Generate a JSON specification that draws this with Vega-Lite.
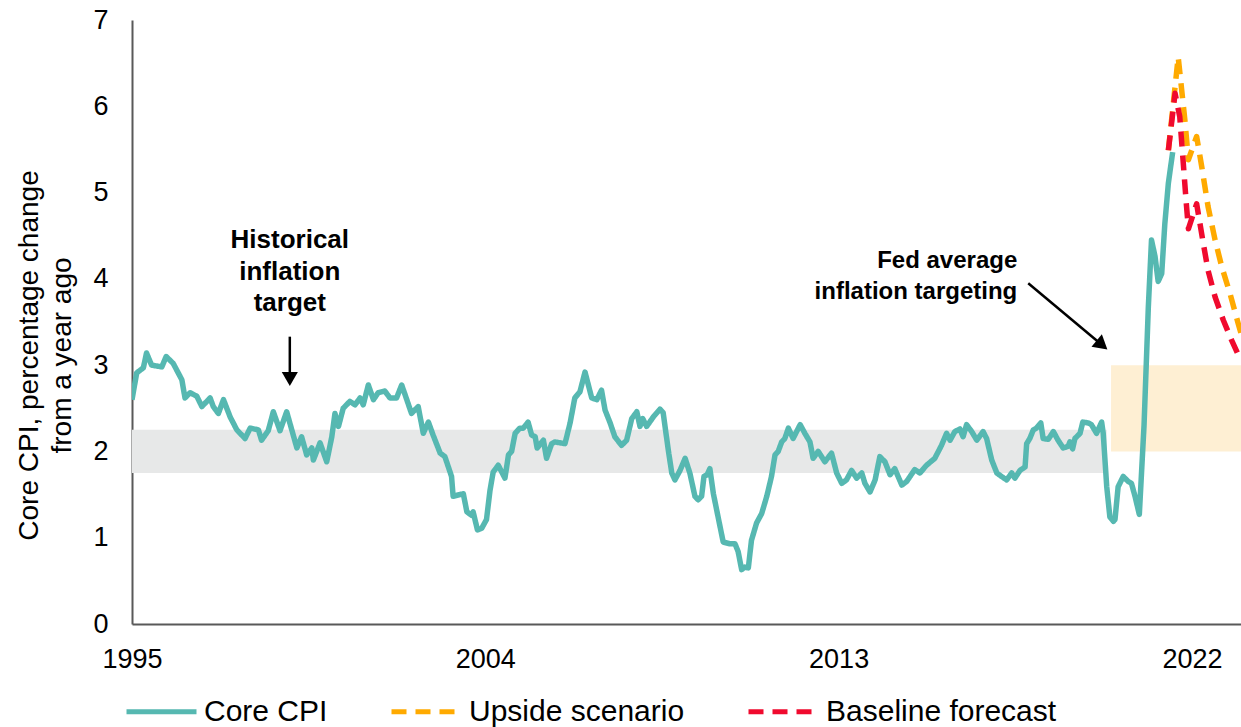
{
  "$schema": "https://vega.github.io/schema/vega-lite/v6.json",
  "width": 1109,
  "height": 604,
  "autosize": {"type": "none"},
  "padding": {"left": 132, "top": 20, "right": 0, "bottom": 103},
  "background": "white",
  "config": {"view": {"stroke": null}, "font": "Liberation Sans"},
  "datasets": {
    "gray": [{"x": 1995, "x2": 2019.83, "lo": 1.75, "hi": 2.25}],
    "peach": [{"x": 2019.94, "x2": 2023.25, "lo": 2.0, "hi": 3.0}],
    "arrowV": [{"x": 1999.02, "y": 3.33, "x2": 1999.02, "y2": 2.86}],
    "headV": [{"x": 1999.02, "y": 2.84}],
    "arrowD": [{"x": 2017.83, "y": 3.95, "x2": 2019.71, "y2": 3.234}],
    "headD": [{"x": 2019.71, "y": 3.234}],
    "txtH": [{"x": 1999.02, "y": 4.354, "label": "Historical\ninflation\ntarget"}],
    "txtF": [{"x": 2017.55, "y": 4.13, "label": "Fed average\ninflation targeting"}],
    "cpi": [
      {"s":"Core CPI","t":1995.00,"v":2.60},{"s":"Core CPI","t":1995.12,"v":2.91},{"s":"Core CPI","t":1995.29,"v":2.97},{"s":"Core CPI","t":1995.37,"v":3.14},{"s":"Core CPI","t":1995.50,"v":3.00},{"s":"Core CPI","t":1995.76,"v":2.98},{"s":"Core CPI","t":1995.87,"v":3.10},{"s":"Core CPI","t":1996.05,"v":3.02},{"s":"Core CPI","t":1996.27,"v":2.83},{"s":"Core CPI","t":1996.35,"v":2.62},{"s":"Core CPI","t":1996.48,"v":2.68},{"s":"Core CPI","t":1996.65,"v":2.64},{"s":"Core CPI","t":1996.78,"v":2.52},{"s":"Core CPI","t":1996.99,"v":2.62},{"s":"Core CPI","t":1997.07,"v":2.52},{"s":"Core CPI","t":1997.20,"v":2.44},{"s":"Core CPI","t":1997.33,"v":2.60},{"s":"Core CPI","t":1997.50,"v":2.40},{"s":"Core CPI","t":1997.67,"v":2.25},{"s":"Core CPI","t":1997.88,"v":2.15},{"s":"Core CPI","t":1998.01,"v":2.27},{"s":"Core CPI","t":1998.22,"v":2.25},{"s":"Core CPI","t":1998.30,"v":2.13},{"s":"Core CPI","t":1998.47,"v":2.24},{"s":"Core CPI","t":1998.60,"v":2.46},{"s":"Core CPI","t":1998.77,"v":2.24},{"s":"Core CPI","t":1998.94,"v":2.46},{"s":"Core CPI","t":1999.20,"v":2.04},{"s":"Core CPI","t":1999.32,"v":2.17},{"s":"Core CPI","t":1999.45,"v":1.96},{"s":"Core CPI","t":1999.58,"v":2.04},{"s":"Core CPI","t":1999.62,"v":1.90},{"s":"Core CPI","t":1999.79,"v":2.10},{"s":"Core CPI","t":1999.96,"v":1.88},{"s":"Core CPI","t":2000.09,"v":2.17},{"s":"Core CPI","t":2000.17,"v":2.44},{"s":"Core CPI","t":2000.26,"v":2.29},{"s":"Core CPI","t":2000.38,"v":2.50},{"s":"Core CPI","t":2000.55,"v":2.58},{"s":"Core CPI","t":2000.68,"v":2.54},{"s":"Core CPI","t":2000.81,"v":2.62},{"s":"Core CPI","t":2000.89,"v":2.54},{"s":"Core CPI","t":2001.02,"v":2.77},{"s":"Core CPI","t":2001.15,"v":2.60},{"s":"Core CPI","t":2001.27,"v":2.68},{"s":"Core CPI","t":2001.44,"v":2.70},{"s":"Core CPI","t":2001.57,"v":2.62},{"s":"Core CPI","t":2001.74,"v":2.62},{"s":"Core CPI","t":2001.87,"v":2.77},{"s":"Core CPI","t":2002.00,"v":2.60},{"s":"Core CPI","t":2002.12,"v":2.44},{"s":"Core CPI","t":2002.29,"v":2.52},{"s":"Core CPI","t":2002.42,"v":2.21},{"s":"Core CPI","t":2002.55,"v":2.34},{"s":"Core CPI","t":2002.67,"v":2.19},{"s":"Core CPI","t":2002.85,"v":1.98},{"s":"Core CPI","t":2002.97,"v":1.94},{"s":"Core CPI","t":2003.14,"v":1.71},{"s":"Core CPI","t":2003.18,"v":1.48},{"s":"Core CPI","t":2003.35,"v":1.50},{"s":"Core CPI","t":2003.44,"v":1.51},{"s":"Core CPI","t":2003.53,"v":1.30},{"s":"Core CPI","t":2003.65,"v":1.26},{"s":"Core CPI","t":2003.69,"v":1.30},{"s":"Core CPI","t":2003.80,"v":1.09},{"s":"Core CPI","t":2003.91,"v":1.11},{"s":"Core CPI","t":2004.03,"v":1.21},{"s":"Core CPI","t":2004.12,"v":1.55},{"s":"Core CPI","t":2004.20,"v":1.76},{"s":"Core CPI","t":2004.33,"v":1.84},{"s":"Core CPI","t":2004.50,"v":1.69},{"s":"Core CPI","t":2004.59,"v":1.96},{"s":"Core CPI","t":2004.67,"v":2.00},{"s":"Core CPI","t":2004.76,"v":2.21},{"s":"Core CPI","t":2004.88,"v":2.27},{"s":"Core CPI","t":2004.97,"v":2.27},{"s":"Core CPI","t":2005.09,"v":2.34},{"s":"Core CPI","t":2005.18,"v":2.19},{"s":"Core CPI","t":2005.27,"v":2.17},{"s":"Core CPI","t":2005.32,"v":2.04},{"s":"Core CPI","t":2005.48,"v":2.13},{"s":"Core CPI","t":2005.56,"v":1.92},{"s":"Core CPI","t":2005.69,"v":2.09},{"s":"Core CPI","t":2005.77,"v":2.11},{"s":"Core CPI","t":2006.03,"v":2.09},{"s":"Core CPI","t":2006.16,"v":2.33},{"s":"Core CPI","t":2006.28,"v":2.62},{"s":"Core CPI","t":2006.41,"v":2.69},{"s":"Core CPI","t":2006.54,"v":2.92},{"s":"Core CPI","t":2006.71,"v":2.62},{"s":"Core CPI","t":2006.84,"v":2.60},{"s":"Core CPI","t":2006.96,"v":2.71},{"s":"Core CPI","t":2007.05,"v":2.48},{"s":"Core CPI","t":2007.18,"v":2.33},{"s":"Core CPI","t":2007.30,"v":2.17},{"s":"Core CPI","t":2007.47,"v":2.07},{"s":"Core CPI","t":2007.60,"v":2.13},{"s":"Core CPI","t":2007.73,"v":2.38},{"s":"Core CPI","t":2007.86,"v":2.46},{"s":"Core CPI","t":2007.94,"v":2.29},{"s":"Core CPI","t":2008.01,"v":2.38},{"s":"Core CPI","t":2008.11,"v":2.29},{"s":"Core CPI","t":2008.28,"v":2.40},{"s":"Core CPI","t":2008.45,"v":2.49},{"s":"Core CPI","t":2008.53,"v":2.45},{"s":"Core CPI","t":2008.66,"v":2.02},{"s":"Core CPI","t":2008.75,"v":1.75},{"s":"Core CPI","t":2008.83,"v":1.67},{"s":"Core CPI","t":2008.96,"v":1.78},{"s":"Core CPI","t":2009.09,"v":1.92},{"s":"Core CPI","t":2009.21,"v":1.75},{"s":"Core CPI","t":2009.34,"v":1.48},{"s":"Core CPI","t":2009.42,"v":1.44},{"s":"Core CPI","t":2009.51,"v":1.48},{"s":"Core CPI","t":2009.57,"v":1.71},{"s":"Core CPI","t":2009.65,"v":1.73},{"s":"Core CPI","t":2009.72,"v":1.80},{"s":"Core CPI","t":2009.81,"v":1.51},{"s":"Core CPI","t":2009.93,"v":1.24},{"s":"Core CPI","t":2010.06,"v":0.95},{"s":"Core CPI","t":2010.23,"v":0.93},{"s":"Core CPI","t":2010.36,"v":0.93},{"s":"Core CPI","t":2010.44,"v":0.84},{"s":"Core CPI","t":2010.53,"v":0.63},{"s":"Core CPI","t":2010.61,"v":0.66},{"s":"Core CPI","t":2010.70,"v":0.65},{"s":"Core CPI","t":2010.78,"v":0.97},{"s":"Core CPI","t":2010.91,"v":1.17},{"s":"Core CPI","t":2011.04,"v":1.28},{"s":"Core CPI","t":2011.17,"v":1.48},{"s":"Core CPI","t":2011.29,"v":1.71},{"s":"Core CPI","t":2011.38,"v":1.96},{"s":"Core CPI","t":2011.46,"v":2.00},{"s":"Core CPI","t":2011.55,"v":2.11},{"s":"Core CPI","t":2011.63,"v":2.15},{"s":"Core CPI","t":2011.72,"v":2.27},{"s":"Core CPI","t":2011.84,"v":2.15},{"s":"Core CPI","t":2012.02,"v":2.31},{"s":"Core CPI","t":2012.14,"v":2.21},{"s":"Core CPI","t":2012.27,"v":2.11},{"s":"Core CPI","t":2012.35,"v":1.92},{"s":"Core CPI","t":2012.48,"v":2.00},{"s":"Core CPI","t":2012.65,"v":1.88},{"s":"Core CPI","t":2012.82,"v":1.98},{"s":"Core CPI","t":2012.95,"v":1.75},{"s":"Core CPI","t":2013.08,"v":1.63},{"s":"Core CPI","t":2013.20,"v":1.67},{"s":"Core CPI","t":2013.33,"v":1.78},{"s":"Core CPI","t":2013.46,"v":1.69},{"s":"Core CPI","t":2013.59,"v":1.75},{"s":"Core CPI","t":2013.67,"v":1.63},{"s":"Core CPI","t":2013.80,"v":1.53},{"s":"Core CPI","t":2013.93,"v":1.67},{"s":"Core CPI","t":2014.05,"v":1.94},{"s":"Core CPI","t":2014.18,"v":1.88},{"s":"Core CPI","t":2014.31,"v":1.73},{"s":"Core CPI","t":2014.43,"v":1.80},{"s":"Core CPI","t":2014.61,"v":1.61},{"s":"Core CPI","t":2014.73,"v":1.65},{"s":"Core CPI","t":2014.94,"v":1.79},{"s":"Core CPI","t":2015.07,"v":1.75},{"s":"Core CPI","t":2015.24,"v":1.84},{"s":"Core CPI","t":2015.45,"v":1.92},{"s":"Core CPI","t":2015.62,"v":2.07},{"s":"Core CPI","t":2015.75,"v":2.21},{"s":"Core CPI","t":2015.84,"v":2.13},{"s":"Core CPI","t":2015.96,"v":2.23},{"s":"Core CPI","t":2016.09,"v":2.26},{"s":"Core CPI","t":2016.17,"v":2.17},{"s":"Core CPI","t":2016.26,"v":2.31},{"s":"Core CPI","t":2016.39,"v":2.23},{"s":"Core CPI","t":2016.52,"v":2.13},{"s":"Core CPI","t":2016.68,"v":2.23},{"s":"Core CPI","t":2016.77,"v":2.15},{"s":"Core CPI","t":2016.90,"v":1.90},{"s":"Core CPI","t":2017.03,"v":1.75},{"s":"Core CPI","t":2017.15,"v":1.71},{"s":"Core CPI","t":2017.28,"v":1.67},{"s":"Core CPI","t":2017.41,"v":1.75},{"s":"Core CPI","t":2017.49,"v":1.69},{"s":"Core CPI","t":2017.62,"v":1.78},{"s":"Core CPI","t":2017.75,"v":1.82},{"s":"Core CPI","t":2017.79,"v":2.09},{"s":"Core CPI","t":2017.87,"v":2.15},{"s":"Core CPI","t":2017.96,"v":2.25},{"s":"Core CPI","t":2018.04,"v":2.27},{"s":"Core CPI","t":2018.15,"v":2.33},{"s":"Core CPI","t":2018.21,"v":2.15},{"s":"Core CPI","t":2018.34,"v":2.14},{"s":"Core CPI","t":2018.47,"v":2.23},{"s":"Core CPI","t":2018.59,"v":2.13},{"s":"Core CPI","t":2018.72,"v":2.04},{"s":"Core CPI","t":2018.85,"v":2.06},{"s":"Core CPI","t":2018.89,"v":2.11},{"s":"Core CPI","t":2018.96,"v":2.03},{"s":"Core CPI","t":2019.02,"v":2.15},{"s":"Core CPI","t":2019.15,"v":2.21},{"s":"Core CPI","t":2019.22,"v":2.34},{"s":"Core CPI","t":2019.36,"v":2.33},{"s":"Core CPI","t":2019.44,"v":2.31},{"s":"Core CPI","t":2019.57,"v":2.21},{"s":"Core CPI","t":2019.70,"v":2.34},{"s":"Core CPI","t":2019.74,"v":2.21},{"s":"Core CPI","t":2019.83,"v":1.59},{"s":"Core CPI","t":2019.91,"v":1.24},{"s":"Core CPI","t":2020.00,"v":1.19},{"s":"Core CPI","t":2020.04,"v":1.21},{"s":"Core CPI","t":2020.12,"v":1.59},{"s":"Core CPI","t":2020.25,"v":1.71},{"s":"Core CPI","t":2020.38,"v":1.65},{"s":"Core CPI","t":2020.46,"v":1.63},{"s":"Core CPI","t":2020.55,"v":1.48},{"s":"Core CPI","t":2020.66,"v":1.27},{"s":"Core CPI","t":2020.78,"v":2.30},{"s":"Core CPI","t":2020.89,"v":3.68},{"s":"Core CPI","t":2020.97,"v":4.45},{"s":"Core CPI","t":2021.06,"v":4.26},{"s":"Core CPI","t":2021.14,"v":3.97},{"s":"Core CPI","t":2021.23,"v":4.06},{"s":"Core CPI","t":2021.31,"v":4.64},{"s":"Core CPI","t":2021.40,"v":5.11},{"s":"Core CPI","t":2021.51,"v":5.47},
      {"s":"Upside scenario","t":2021.40,"v":5.49},{"s":"Upside scenario","t":2021.65,"v":6.57},{"s":"Upside scenario","t":2021.73,"v":6.23},{"s":"Upside scenario","t":2021.82,"v":5.84},{"s":"Upside scenario","t":2021.91,"v":5.38},{"s":"Upside scenario","t":2022.12,"v":5.65},{"s":"Upside scenario","t":2022.25,"v":5.30},{"s":"Upside scenario","t":2022.41,"v":4.84},{"s":"Upside scenario","t":2022.59,"v":4.45},{"s":"Upside scenario","t":2022.76,"v":4.14},{"s":"Upside scenario","t":2022.97,"v":3.83},{"s":"Upside scenario","t":2023.18,"v":3.48},{"s":"Upside scenario","t":2023.25,"v":3.37},
      {"s":"Baseline forecast","t":2021.40,"v":5.49},{"s":"Baseline forecast","t":2021.57,"v":6.15},{"s":"Baseline forecast","t":2021.69,"v":5.88},{"s":"Baseline forecast","t":2021.78,"v":5.34},{"s":"Baseline forecast","t":2021.85,"v":4.91},{"s":"Baseline forecast","t":2021.91,"v":4.58},{"s":"Baseline forecast","t":2022.12,"v":4.87},{"s":"Baseline forecast","t":2022.19,"v":4.68},{"s":"Baseline forecast","t":2022.29,"v":4.41},{"s":"Baseline forecast","t":2022.41,"v":4.10},{"s":"Baseline forecast","t":2022.59,"v":3.79},{"s":"Baseline forecast","t":2022.80,"v":3.52},{"s":"Baseline forecast","t":2023.01,"v":3.29},{"s":"Baseline forecast","t":2023.22,"v":3.08},{"s":"Baseline forecast","t":2023.25,"v":3.05}
    ]
  },
  "layer": [
    {
      "data": {"name": "gray"},
      "mark": {"type": "rect", "color": "#E7E8E8"},
      "encoding": {
        "x": {"field": "x", "type": "quantitative", "scale": {"domain": [1995, 2023.25], "nice": false, "zero": false},
          "axis": {"values": [1995, 2004, 2013, 2022], "format": "d", "title": null, "grid": false, "ticks": false, "labelFlush": false,
            "labelFontSize": 27, "labelColor": "#000000", "labelPadding": 22, "domainColor": "#595959", "domainWidth": 2, "labelFont": "Liberation Sans"}},
        "x2": {"field": "x2"},
        "y": {"field": "lo", "type": "quantitative", "scale": {"domain": [0, 7], "nice": false},
          "axis": {"values": [0, 1, 2, 3, 4, 5, 6, 7], "format": "d", "title": ["Core CPI, percentage change", "from a year ago"], "grid": false, "ticks": false, "labelFlush": false,
            "labelFontSize": 27, "labelColor": "#000000", "labelPadding": 24, "domainColor": "#595959", "domainWidth": 2,
            "titleFontSize": 28, "titleFontWeight": "normal", "titleColor": "#000000", "titlePadding": 16, "titleLineHeight": 33, "titleY": 335, "titleFont": "Liberation Sans", "labelFont": "Liberation Sans"}},
        "y2": {"field": "hi"}
      }
    },
    {
      "data": {"name": "peach"},
      "mark": {"type": "rect", "color": "#FEEFD3", "clip": true},
      "encoding": {
        "x": {"field": "x", "type": "quantitative"},
        "x2": {"field": "x2"},
        "y": {"field": "lo", "type": "quantitative"},
        "y2": {"field": "hi"}
      }
    },
    {
      "data": {"name": "cpi"},
      "mark": {"type": "line", "strokeWidth": 5.5, "clip": true, "strokeJoin": "round"},
      "encoding": {
        "x": {"field": "t", "type": "quantitative"},
        "y": {"field": "v", "type": "quantitative"},
        "color": {"field": "s", "type": "nominal",
          "scale": {"domain": ["Core CPI", "Upside scenario", "Baseline forecast"], "range": ["#56B8B1", "#FFAA00", "#F00A2E"]},
          "legend": {"orient": "none", "legendX": -8, "legendY": 654, "direction": "horizontal", "title": null,
            "symbolType": "stroke", "symbolSize": 4900, "symbolStrokeWidth": 5, "labelFontSize": 30, "labelColor": "#000000",
            "labelFont": "Liberation Sans", "columnPadding": 53, "labelOffset": 5, "labelLimit": 400}},
        "strokeDash": {"field": "s", "type": "nominal",
          "scale": {"domain": ["Core CPI", "Upside scenario", "Baseline forecast"], "range": [[1, 0], [15, 9], [15, 9]]}},
        "order": {"field": "t", "type": "quantitative"}
      }
    },
    {
      "data": {"name": "arrowV"},
      "mark": {"type": "rule", "strokeWidth": 2.5, "color": "#000000"},
      "encoding": {
        "x": {"field": "x", "type": "quantitative"}, "y": {"field": "y", "type": "quantitative"},
        "x2": {"field": "x2"}, "y2": {"field": "y2"}
      }
    },
    {
      "data": {"name": "headV"},
      "mark": {"type": "point", "shape": "triangle-down", "filled": true, "color": "#000000", "size": 260, "opacity": 1},
      "encoding": {"x": {"field": "x", "type": "quantitative"}, "y": {"field": "y", "type": "quantitative"}}
    },
    {
      "data": {"name": "arrowD"},
      "mark": {"type": "rule", "strokeWidth": 2.5, "color": "#000000"},
      "encoding": {
        "x": {"field": "x", "type": "quantitative"}, "y": {"field": "y", "type": "quantitative"},
        "x2": {"field": "x2"}, "y2": {"field": "y2"}
      }
    },
    {
      "data": {"name": "headD"},
      "mark": {"type": "point", "shape": "triangle-up", "angle": 130, "filled": true, "color": "#000000", "size": 260, "opacity": 1},
      "encoding": {"x": {"field": "x", "type": "quantitative"}, "y": {"field": "y", "type": "quantitative"}}
    },
    {
      "data": {"name": "txtH"},
      "mark": {"type": "text", "lineBreak": "\n", "fontSize": 26, "fontWeight": "bold", "font": "Liberation Sans", "align": "center", "baseline": "alphabetic", "lineHeight": 31.5, "color": "#000000"},
      "encoding": {"x": {"field": "x", "type": "quantitative"}, "y": {"field": "y", "type": "quantitative"}, "text": {"field": "label"}}
    },
    {
      "data": {"name": "txtF"},
      "mark": {"type": "text", "lineBreak": "\n", "fontSize": 24, "fontWeight": "bold", "font": "Liberation Sans", "align": "right", "baseline": "alphabetic", "lineHeight": 31.5, "color": "#000000"},
      "encoding": {"x": {"field": "x", "type": "quantitative"}, "y": {"field": "y", "type": "quantitative"}, "text": {"field": "label"}}
    }
  ]
}
